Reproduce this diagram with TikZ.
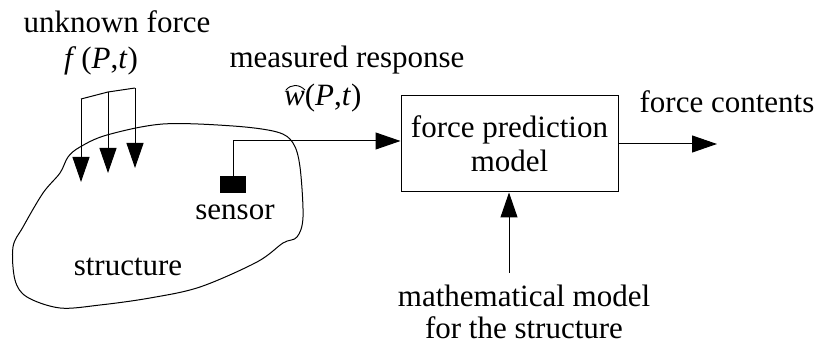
\documentclass[tikz,border=0pt]{standalone}
\usepackage{fontspec}
\setmainfont{Liberation Serif}
\usetikzlibrary{arrows.meta}
\tikzset{
  lbl/.style={inner sep=0pt, font=\fontsize{31}{36}\selectfont, align=center},
  conn/.style={line width=1pt, -{Triangle[length=25pt,width=17pt]}},
  thin/.style={line width=1pt}
}
\begin{document}
\begin{tikzpicture}[x=1pt,y=-1pt]
\useasboundingbox (0,0) rectangle (831,347);
% structure outline
\draw[thin] plot[smooth cycle, tension=0.55] coordinates {
 (68,157) (80,147) (107,135) (163,124) (233,126) (277,132) (293,143) (300,167)
 (303,217) (297,237) (283,243) (257,262) (200,287) (150,298) (100,305) (60,308)
 (27,297) (15,280) (13,247) (23,227) (43,193) (60,173)};
% texts
\node[lbl] (uf) at (117,22) {unknown force};
\node[lbl] (fpt) at (101,61) {\textit{f}\,(\textit{P},\textit{t})};
\node[lbl] (mr) at (347,60) {measured response};
\node[lbl, anchor=base west] (wpt) at (284,106) {\textit{w}(\textit{P},\textit{t})};
\draw[line width=0.9pt] ([xshift=2pt,yshift=16pt]wpt.base west) .. controls ([xshift=7pt,yshift=22pt]wpt.base west) and ([xshift=15pt,yshift=22pt]wpt.base west) .. ([xshift=21pt,yshift=16pt]wpt.base west);
\node[lbl] (sens) at (235,212) {sensor};
\node[lbl] (struct) at (128,267) {structure};
\node[lbl] (fc) at (727,102) {force contents};
\node[lbl] (mm) at (524,312) {mathematical model\\[-4pt]for the structure};
% box
\node[draw, thin, minimum width=217pt, minimum height=96pt, inner sep=0pt,
      font=\fontsize{31}{34}\selectfont, align=center] (box) at (509.5,144)
      {force prediction\\model};
% sensor
\node[fill=black, minimum width=26pt, minimum height=17pt, inner sep=0pt] (sq) at (233,184.5) {};
\coordinate (s1) at (233,141);
\draw[conn] (sq.north) -- (s1) -- (box.west |- s1);
% force arrows
\coordinate (fa) at (81,99);
\coordinate (fb) at (108,92);
\coordinate (fc1) at (135,88);
\coordinate (ta) at (81,182);
\coordinate (tb) at (108,173);
\coordinate (tc) at (135,168);
\draw[thin] (fa) -- (fb) -- (fc1);
\draw[conn] (fa) -- (ta);
\draw[conn] (fb) -- (tb);
\draw[conn] (fc1) -- (tc);
% output
\coordinate (out) at (717,144);
\draw[conn] (box.east) -- (out);
% model input
\coordinate (mtop) at (509,273);
\draw[conn] (mtop) -- (box.south -| mtop);
\end{tikzpicture}
\end{document}
